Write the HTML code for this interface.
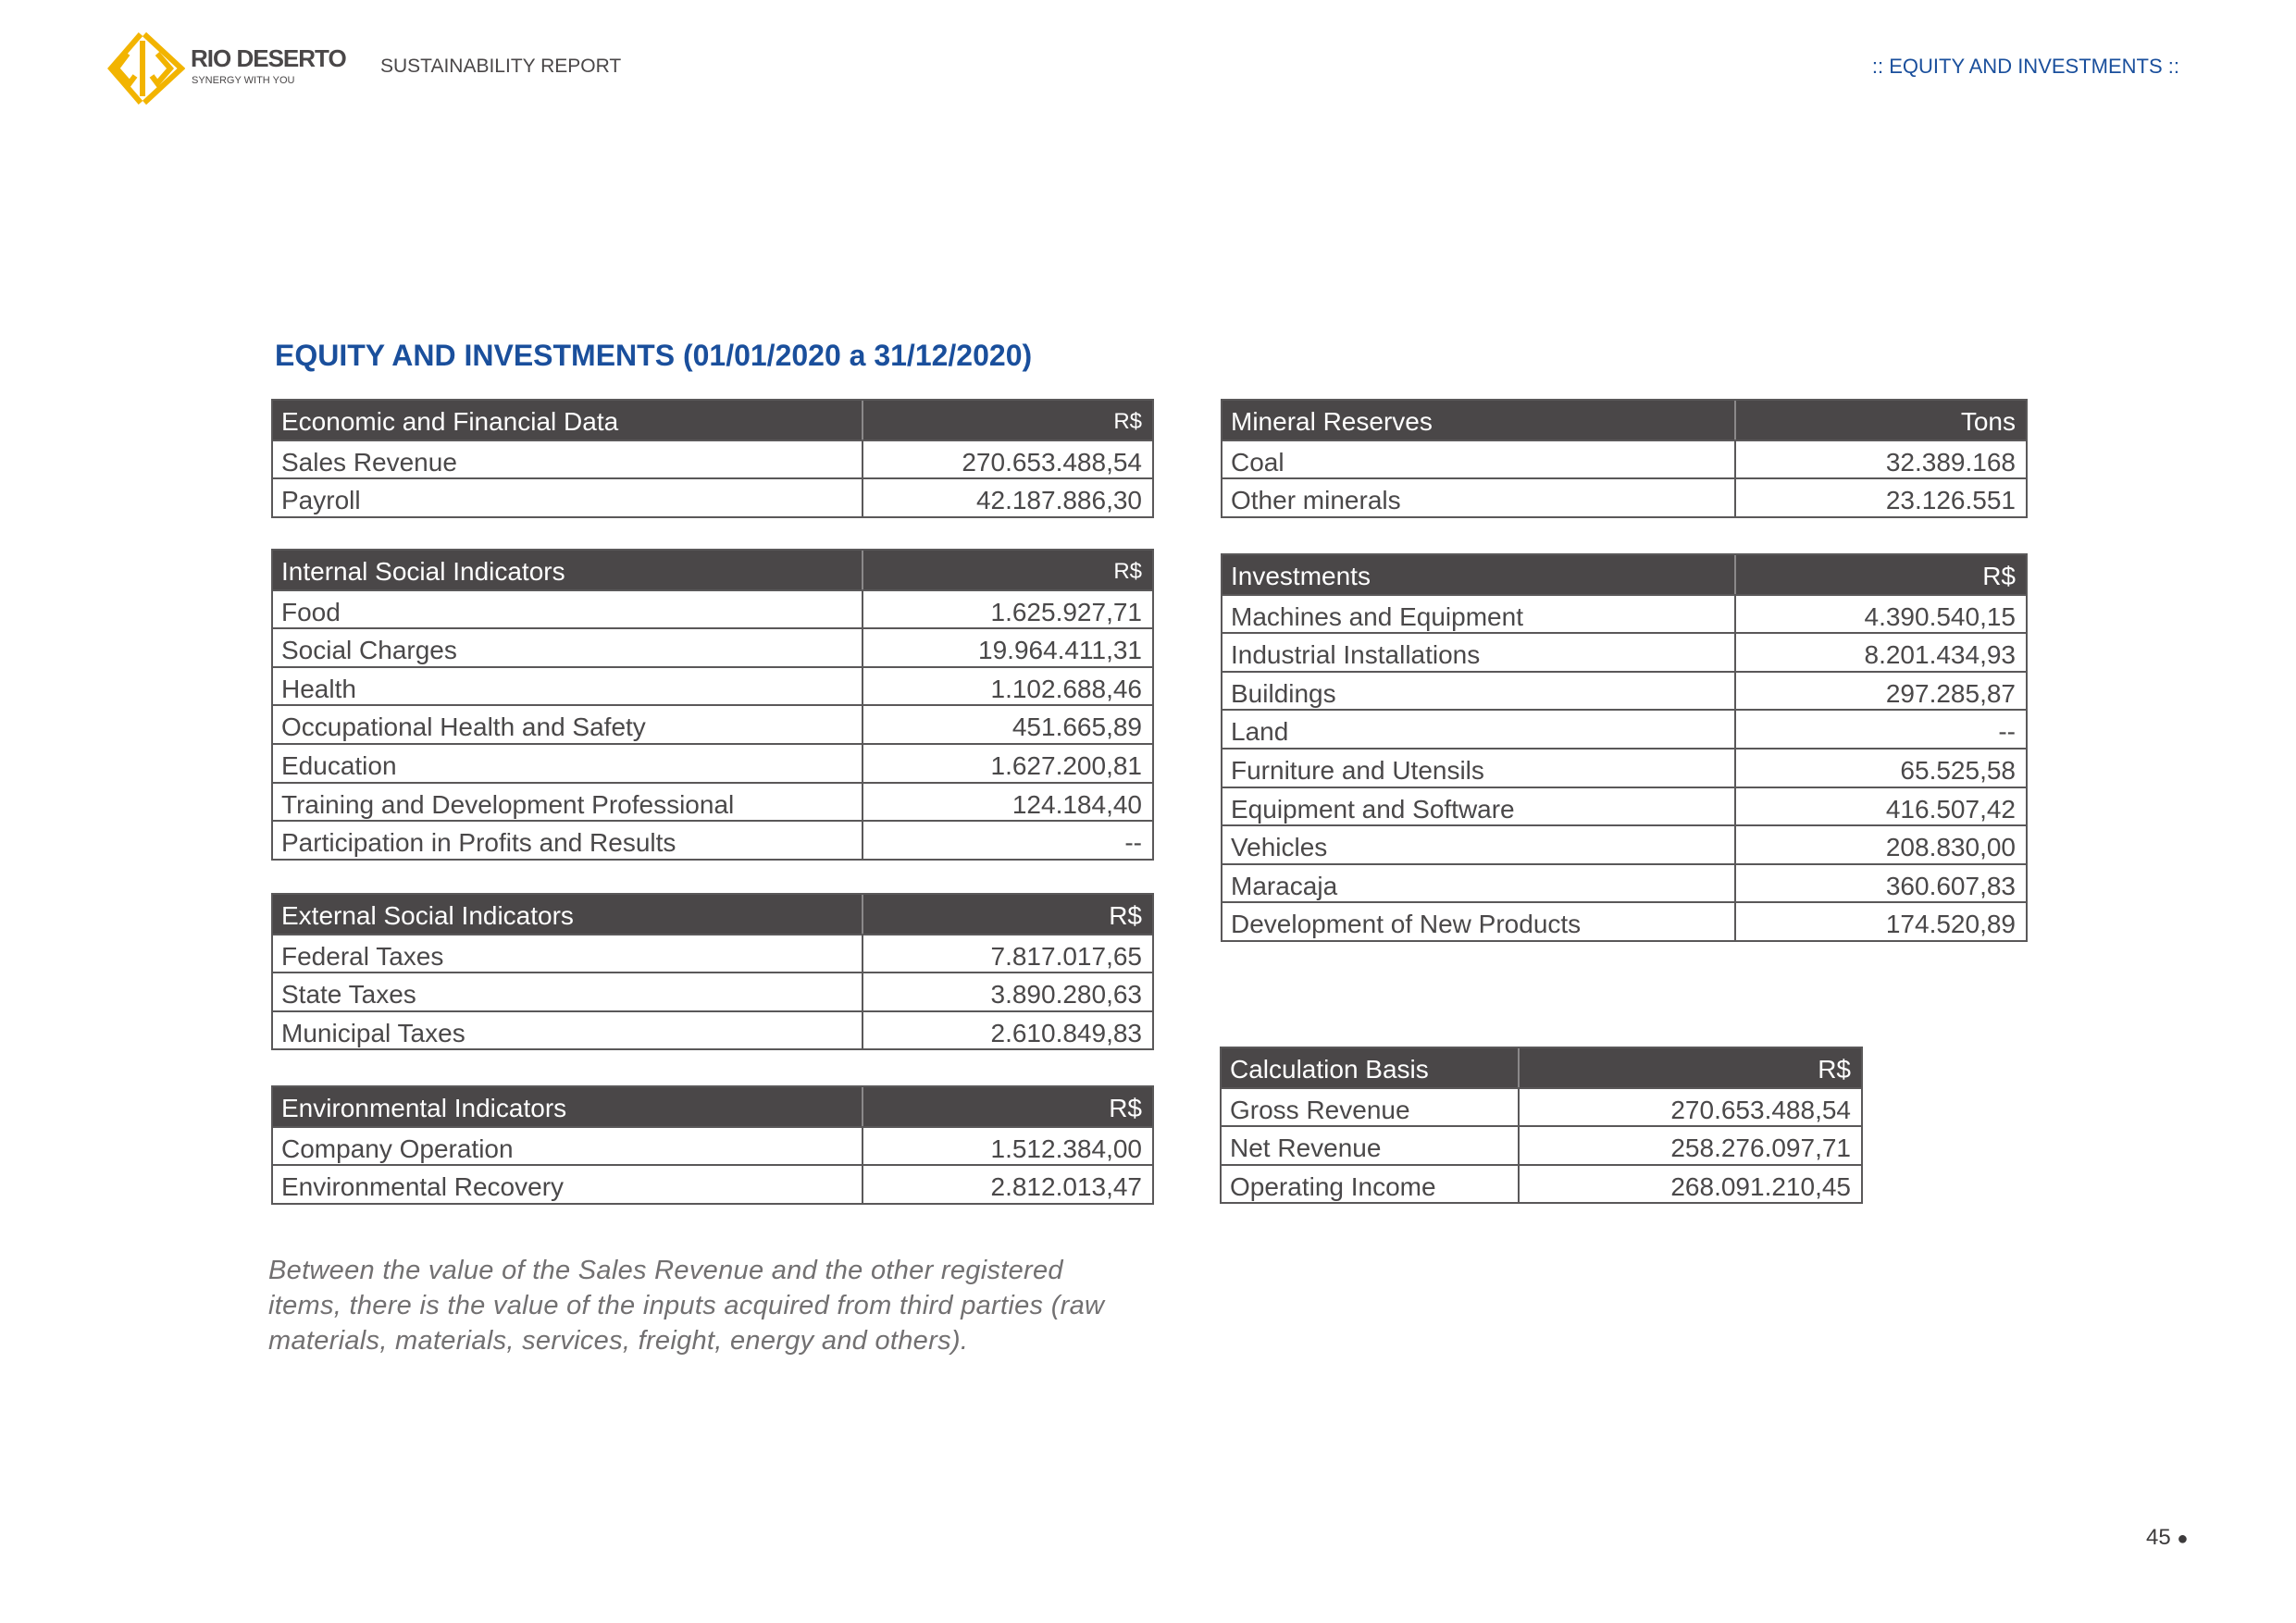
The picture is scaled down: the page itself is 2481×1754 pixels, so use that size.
<!DOCTYPE html>
<html><head><meta charset="utf-8">
<style>
*{margin:0;padding:0;box-sizing:border-box}
body{width:2481px;height:1754px;background:#fff;position:relative;font-family:"Liberation Sans",sans-serif;color:#4a4849;overflow:hidden}
.t{position:absolute;border:2px solid #5a5859;background:#fff}
.r{display:flex;height:41.6px;border-top:2px solid #5a5859}
.r:first-child{border-top:none;background:#4a4748;color:#fff}
.r div{font-size:28px;line-height:39px;padding-top:3px;white-space:nowrap;overflow:hidden}
.r .a{padding-left:9px;border-right:2px solid #5a5859}
.r:first-child .a{border-right:2px solid #8a8889}
.r .b{flex:1;text-align:right;padding-right:11px}
.abs{position:absolute;white-space:nowrap}
</style></head><body>

<svg class="abs" style="left:116px;top:34px" width="84" height="80" viewBox="0 0 84 80">
<g fill="none" stroke="#f2b400" stroke-width="6">
<path d="M40 3 L80 40 L40 77"/><path d="M36 3 L4 40 L36 77"/>
<path d="M38 10 L38 70"/><path d="M22 24 L10 40 L24 56 L30 48"/><path d="M54 24 L68 40 L54 56 L48 48"/>
</g></svg>
<div class="abs" style="left:206px;top:48px;font-size:26px;font-weight:bold;color:#4a4748;letter-spacing:-1px">RIO DESERTO</div>
<div class="abs" style="left:207px;top:81px;font-size:11px;color:#4a4748">SYNERGY WITH YOU</div>
<div class="abs" style="left:411px;top:60px;font-size:21px;color:#4a4748">SUSTAINABILITY REPORT</div>
<div class="abs" style="right:126px;top:59px;font-size:22px;color:#1a4f9c">:: EQUITY AND INVESTMENTS ::</div>

<div class="abs" style="left:297px;top:366px;font-size:32px;font-weight:bold;color:#1a4f9c;letter-spacing:0px">EQUITY AND INVESTMENTS (01/01/2020 a 31/12/2020)</div>

<div class="t" style="left:293px;top:431px;width:954px">
<div class="r"><div class="a" style="width:638px">Economic and Financial Data</div><div class="b" style="font-size:24px">R$</div></div>
<div class="r"><div class="a" style="width:638px">Sales Revenue</div><div class="b">270.653.488,54</div></div>
<div class="r"><div class="a" style="width:638px">Payroll</div><div class="b">42.187.886,30</div></div>
</div>

<div class="t" style="left:293px;top:593px;width:954px">
<div class="r"><div class="a" style="width:638px">Internal Social Indicators</div><div class="b" style="font-size:24px">R$</div></div>
<div class="r"><div class="a" style="width:638px">Food</div><div class="b">1.625.927,71</div></div>
<div class="r"><div class="a" style="width:638px">Social Charges</div><div class="b">19.964.411,31</div></div>
<div class="r"><div class="a" style="width:638px">Health</div><div class="b">1.102.688,46</div></div>
<div class="r"><div class="a" style="width:638px">Occupational Health and Safety</div><div class="b">451.665,89</div></div>
<div class="r"><div class="a" style="width:638px">Education</div><div class="b">1.627.200,81</div></div>
<div class="r"><div class="a" style="width:638px">Training and Development Professional</div><div class="b">124.184,40</div></div>
<div class="r"><div class="a" style="width:638px">Participation in Profits and Results</div><div class="b">--</div></div>
</div>

<div class="t" style="left:293px;top:965px;width:954px">
<div class="r"><div class="a" style="width:638px">External Social Indicators</div><div class="b">R$</div></div>
<div class="r"><div class="a" style="width:638px">Federal Taxes</div><div class="b">7.817.017,65</div></div>
<div class="r"><div class="a" style="width:638px">State Taxes</div><div class="b">3.890.280,63</div></div>
<div class="r"><div class="a" style="width:638px">Municipal Taxes</div><div class="b">2.610.849,83</div></div>
</div>

<div class="t" style="left:293px;top:1173px;width:954px">
<div class="r"><div class="a" style="width:638px">Environmental Indicators</div><div class="b">R$</div></div>
<div class="r"><div class="a" style="width:638px">Company Operation</div><div class="b">1.512.384,00</div></div>
<div class="r"><div class="a" style="width:638px">Environmental Recovery</div><div class="b">2.812.013,47</div></div>
</div>

<div class="t" style="left:1319px;top:431px;width:872px">
<div class="r"><div class="a" style="width:555px">Mineral Reserves</div><div class="b">Tons</div></div>
<div class="r"><div class="a" style="width:555px">Coal</div><div class="b">32.389.168</div></div>
<div class="r"><div class="a" style="width:555px">Other minerals</div><div class="b">23.126.551</div></div>
</div>

<div class="t" style="left:1319px;top:598px;width:872px">
<div class="r"><div class="a" style="width:555px">Investments</div><div class="b">R$</div></div>
<div class="r"><div class="a" style="width:555px">Machines and Equipment</div><div class="b">4.390.540,15</div></div>
<div class="r"><div class="a" style="width:555px">Industrial Installations</div><div class="b">8.201.434,93</div></div>
<div class="r"><div class="a" style="width:555px">Buildings</div><div class="b">297.285,87</div></div>
<div class="r"><div class="a" style="width:555px">Land</div><div class="b">--</div></div>
<div class="r"><div class="a" style="width:555px">Furniture and Utensils</div><div class="b">65.525,58</div></div>
<div class="r"><div class="a" style="width:555px">Equipment and Software</div><div class="b">416.507,42</div></div>
<div class="r"><div class="a" style="width:555px">Vehicles</div><div class="b">208.830,00</div></div>
<div class="r"><div class="a" style="width:555px">Maracaja</div><div class="b">360.607,83</div></div>
<div class="r"><div class="a" style="width:555px">Development of New Products</div><div class="b">174.520,89</div></div>
</div>

<div class="t" style="left:1318px;top:1131px;width:695px">
<div class="r"><div class="a" style="width:322px">Calculation Basis</div><div class="b">R$</div></div>
<div class="r"><div class="a" style="width:322px">Gross Revenue</div><div class="b">270.653.488,54</div></div>
<div class="r"><div class="a" style="width:322px">Net Revenue</div><div class="b">258.276.097,71</div></div>
<div class="r"><div class="a" style="width:322px">Operating Income</div><div class="b">268.091.210,45</div></div>
</div>

<div class="abs" style="left:290px;top:1354px;font-size:29px;font-style:italic;color:#727071;line-height:38px;letter-spacing:0.3px">Between the value of the Sales Revenue and the other registered<br>items, there is the value of the inputs acquired from third parties (raw<br>materials, materials, services, freight, energy and others).</div>

<div class="abs" style="left:2319px;top:1648px;font-size:24px;color:#3d3b3c">45 <span style="font-size:20px">&#9679;</span></div>
</body></html>
